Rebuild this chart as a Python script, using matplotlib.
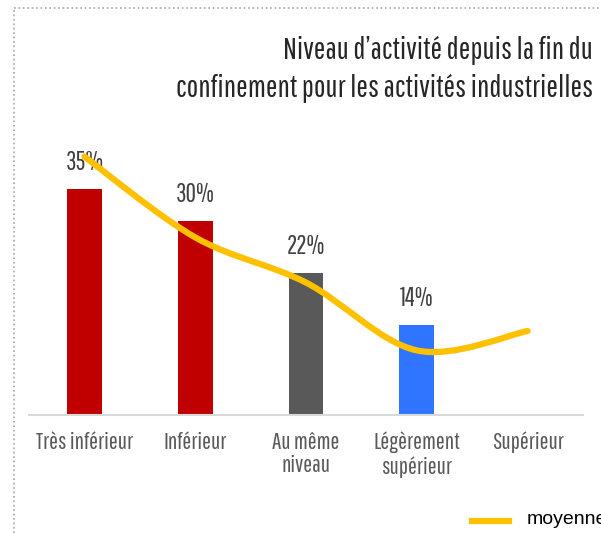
import numpy as np
import matplotlib
matplotlib.use('Agg')
import matplotlib.pyplot as plt
from matplotlib.path import Path
from matplotlib.patches import PathPatch
from matplotlib.lines import Line2D

categories = ['Très inférieur', 'Inférieur', 'Au même\nniveau', 'Légèrement\nsupérieur', 'Supérieur']
values = [35, 30, 22, 14, 0]
labels = ['35%', '30%', '22%', '14%', '']
moyenne = [40, 27.5, 20.5, 10, 13]
colors = ['#C00000', '#C00000', '#595959', '#3075FF', '#3075FF']

COND = ['Pathway Gothic One', 'DejaVu Sans']

fig = plt.figure(figsize=(6.01, 5.33), dpi=100)
ax = fig.add_axes([29/601, 118/533, 554/601, 290.7/533])

x = np.arange(len(categories))
ax.bar(x, values, width=0.315, color=colors, zorder=2)
ax.set_xlim(-0.5, 4.5)
ax.set_ylim(0, 45)

for xi, v, lab in zip(x, values, labels):
    if lab:
        ax.annotate(lab, (xi, v), xytext=(0, 10), textcoords='offset points',
                    ha='center', va='bottom', fontsize=18.5, color='#404040',
                    family=COND)

# smoothed line (Bezier through the points, like Excel's smoothed line)
pts = np.column_stack([x, moyenne]).astype(float)
verts = [pts[0]]
codes = [Path.MOVETO]
n = len(pts)
for i in range(n - 1):
    p0 = pts[max(i - 1, 0)]
    p1 = pts[i]
    p2 = pts[i + 1]
    p3 = pts[min(i + 2, n - 1)]
    c1 = p1 + (p2 - p0) / 6
    c2 = p2 - (p3 - p1) / 6
    verts += [c1, c2, p2]
    codes += [Path.CURVE4] * 3
ax.add_patch(PathPatch(Path(verts, codes), facecolor='none', edgecolor='#FFC000',
                       lw=4.5, capstyle='round', zorder=3))

for s in ['top', 'right', 'left']:
    ax.spines[s].set_visible(False)
ax.spines['bottom'].set_color('#D9D9D9')
ax.spines['bottom'].set_linewidth(1.5)
ax.set_yticks([])
ax.set_xticks(x)
ax.set_xticklabels(categories, fontsize=17, color='#595959', family=COND,
                   linespacing=1.15, va='top')
ax.tick_params(axis='x', length=0, pad=12)

fig.text(593/601, 1 - 50/533, 'Niveau d\u2019activité depuis la fin du',
         ha='right', va='center', fontsize=22.2, color='#262626', family=COND)
fig.text(593/601, 1 - 88/533, 'confinement pour les activités industrielles',
         ha='right', va='center', fontsize=22.2, color='#262626', family=COND)

# legend (cut at the right edge, as in the original)
fig.add_artist(Line2D([472/601, 509/601], [1 - 521/533] * 2, color='#FFC000', lw=4.5))
fig.text(527/601, 1 - 520/533, 'moyenne', ha='left', va='center', fontsize=14,
         color='black', family='Liberation Sans')

# dotted frame
fig.add_artist(Line2D([14/601, 14/601], [0, 1 - 8/533], color='#A6A6A6', lw=1.2, ls=':'))
fig.add_artist(Line2D([14/601, 1], [1 - 8/533] * 2, color='#A6A6A6', lw=1.2, ls=':'))

fig.savefig('out.png', dpi=100)
